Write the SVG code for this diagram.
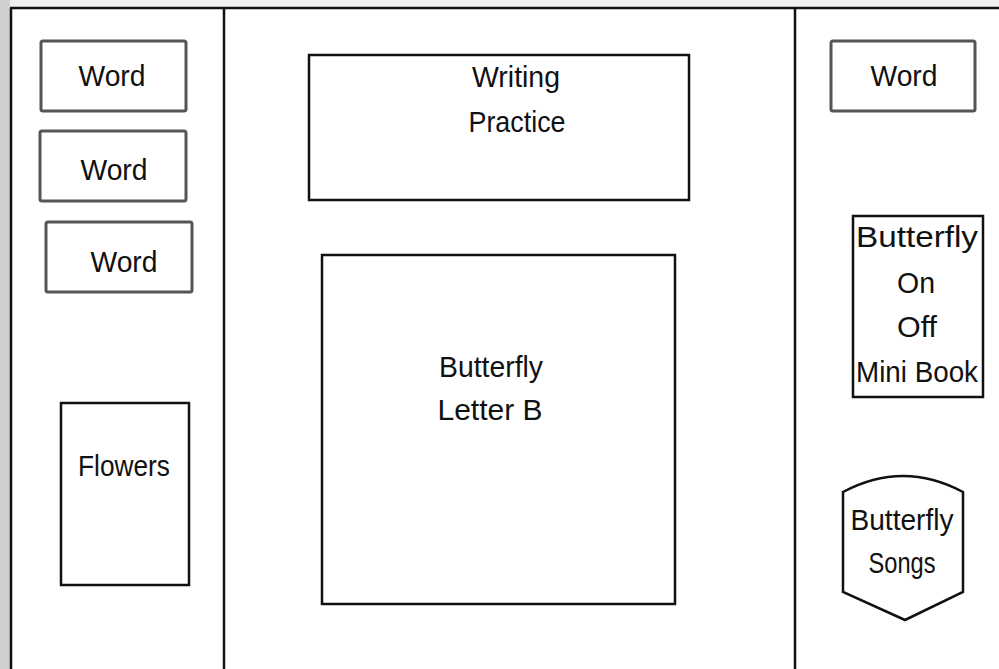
<svg xmlns="http://www.w3.org/2000/svg" width="999" height="669" viewBox="0 0 999 669">
<style>
.t{font-family:"Liberation Sans",Arial,sans-serif;font-size:29px;fill:#111;text-anchor:middle}
.wb{fill:#fff;stroke:#555;stroke-width:3}
.bb{fill:#fff;stroke:#111;stroke-width:2.5}
.ln{stroke:#111;stroke-width:2.5;fill:none}
</style>
<rect x="0" y="0" width="999" height="669" fill="#fff"/>
<rect x="0" y="0" width="999" height="7" fill="#f0f0f0"/>
<rect x="0" y="0" width="10" height="669" fill="#d0d0d0"/>
<g id="frame">
<line class="ln" x1="10" y1="8" x2="999" y2="8"/>
<line class="ln" x1="11" y1="8" x2="11" y2="669"/>
<line class="ln" x1="224" y1="8" x2="224" y2="669"/>
<line class="ln" x1="795" y1="8" x2="795" y2="669"/>
</g>
<g id="connectors"></g>
<g id="word1"><rect class="wb" x="41" y="41" width="145" height="70" rx="2"/><text class="t" x="112" y="86" textLength="67" lengthAdjust="spacingAndGlyphs">Word</text></g>
<g id="word2"><rect class="wb" x="40" y="131" width="146" height="70" rx="2"/><text class="t" x="114" y="180" textLength="67" lengthAdjust="spacingAndGlyphs">Word</text></g>
<g id="word3"><rect class="wb" x="46" y="222" width="146" height="70" rx="2"/><text class="t" x="124" y="272" textLength="67" lengthAdjust="spacingAndGlyphs">Word</text></g>
<g id="flowers"><rect class="bb" x="61" y="403" width="128" height="182"/><text class="t" x="124" y="476" textLength="92" lengthAdjust="spacingAndGlyphs">Flowers</text></g>
<g id="writing"><rect class="bb" x="309" y="55" width="380" height="145"/><text class="t" x="516" y="87" textLength="88" lengthAdjust="spacingAndGlyphs">Writing</text><text class="t" x="517" y="132" textLength="97" lengthAdjust="spacingAndGlyphs">Practice</text></g>
<g id="letterb"><rect class="bb" x="322" y="255" width="353" height="349"/><text class="t" x="491" y="377" textLength="104" lengthAdjust="spacingAndGlyphs">Butterfly</text><text class="t" x="490" y="420" textLength="105" lengthAdjust="spacingAndGlyphs">Letter B</text></g>
<g id="word4"><rect class="wb" x="831" y="41" width="144" height="70" rx="2"/><text class="t" x="904" y="86" textLength="67" lengthAdjust="spacingAndGlyphs">Word</text></g>
<g id="minibook"><rect class="bb" x="853" y="216" width="130" height="181"/><text class="t" x="917" y="247" textLength="122" lengthAdjust="spacingAndGlyphs">Butterfly</text><text class="t" x="916" y="293" textLength="38" lengthAdjust="spacingAndGlyphs">On</text><text class="t" x="917" y="337" textLength="40" lengthAdjust="spacingAndGlyphs">Off</text><text class="t" x="917" y="382" textLength="122" lengthAdjust="spacingAndGlyphs">Mini Book</text></g>
<g id="songs"><path class="bb" d="M843,492 Q903,460 963,492 L963,592 L905,620 L843,592 Z"/><text class="t" x="902" y="530" textLength="103" lengthAdjust="spacingAndGlyphs">Butterfly</text><text class="t" x="902" y="573" textLength="67" lengthAdjust="spacingAndGlyphs">Songs</text></g>
</svg>
